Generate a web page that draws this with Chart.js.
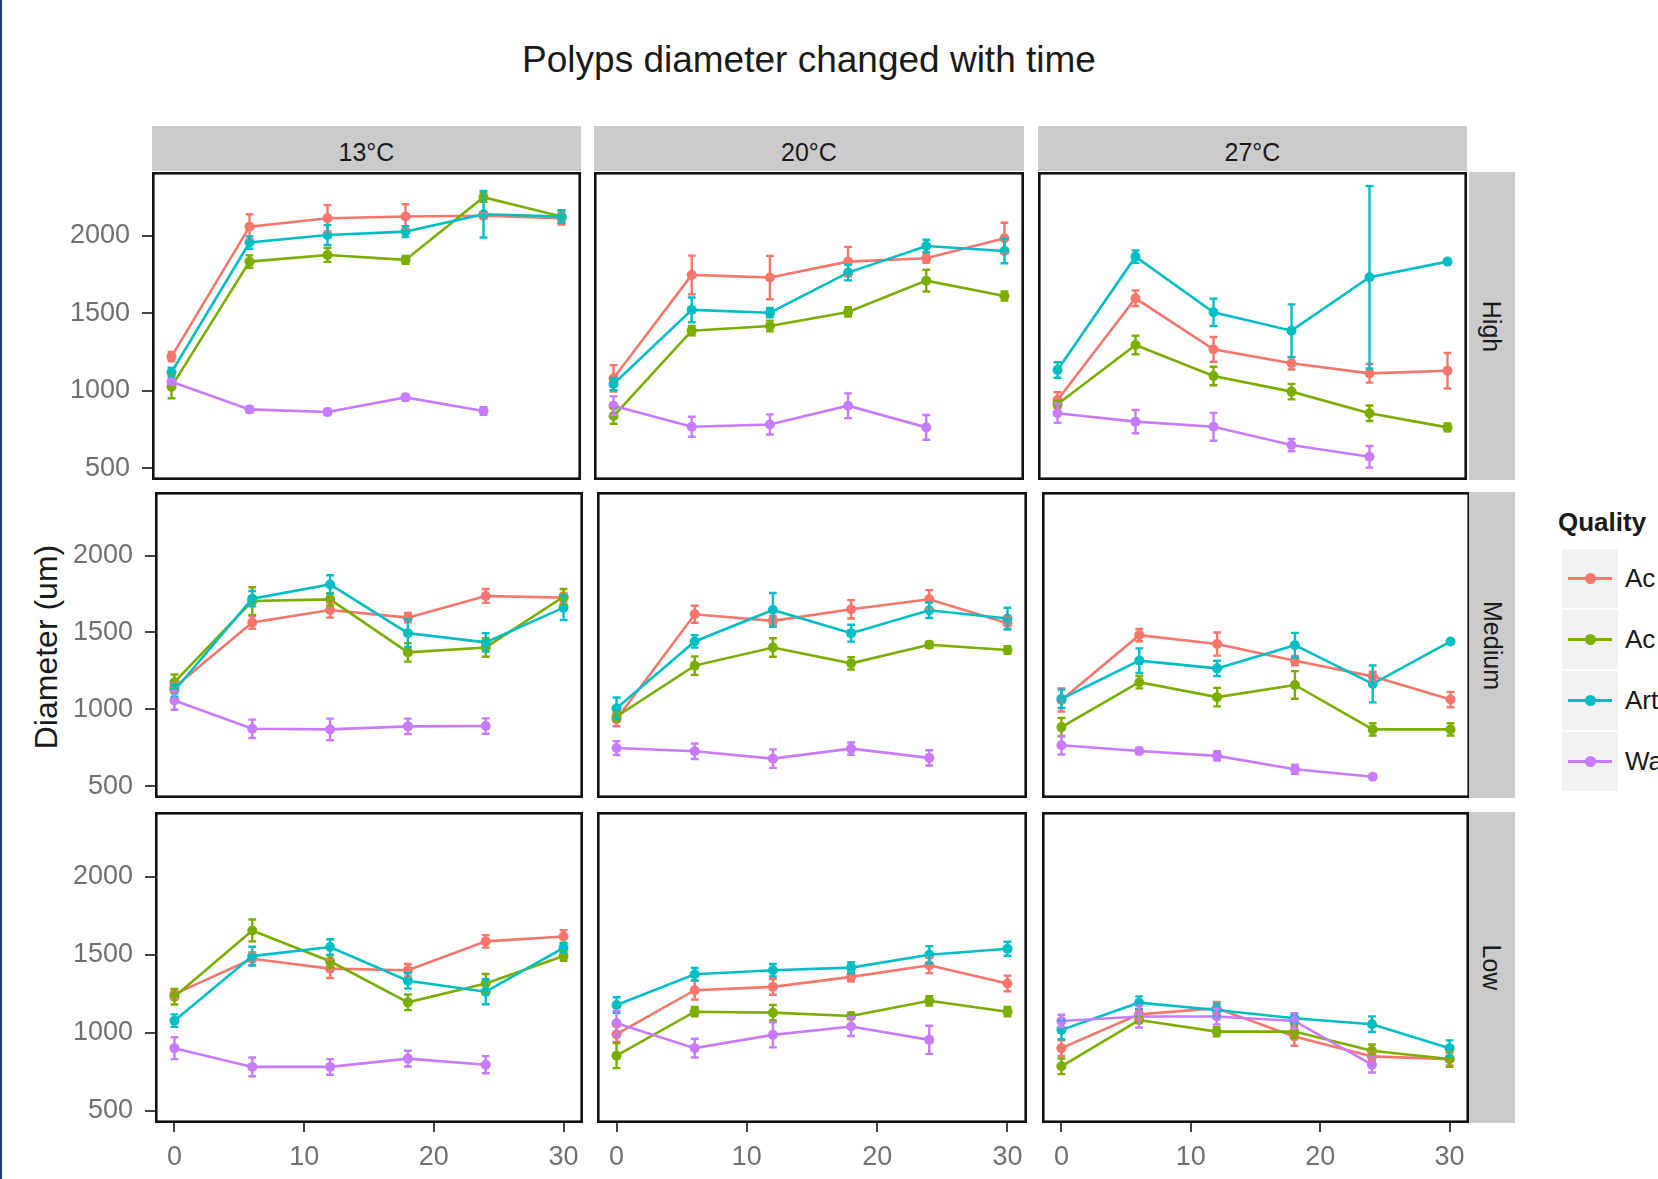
<!DOCTYPE html>
<html>
<head>
<meta charset="utf-8">
<script src="https://cdn.jsdelivr.net/npm/chart.js@4.4.0/dist/chart.umd.min.js"></script>
<style>
  html, body { margin: 0; padding: 0; background: #fff; overflow: hidden; }
  body { width: 1658px; height: 1179px; position: relative; font-family: "Liberation Sans", Arial, sans-serif; color: #1a1a1a; }
  canvas { position: absolute; }
  .strip { position: absolute; background: #cbcbcb; font-size: 25px; display: flex; align-items: center; justify-content: center; }
  .strip-x span { padding-top: 8px; }
  .strip-y span { transform: rotate(90deg); white-space: nowrap; }
  .key { position: absolute; left: 1562px; width: 56px; height: 59px; background: #f2f2f2; }
  .key .ln { position: absolute; left: 6px; right: 6px; top: 28px; height: 3px; }
  .key .dot { position: absolute; left: 23px; top: 24px; width: 11px; height: 11px; border-radius: 50%; }
  .klabel { position: absolute; left: 1625px; font-size: 26px; white-space: nowrap; }
</style>
</head>
<body>
<div style="position:absolute;left:0;top:0;width:2px;height:1179px;background:#1f3a6e;"></div>
<div id="title" style="position:absolute;left:0;width:1618px;top:40px;text-align:center;font-size:37px;line-height:40px;">Polyps diameter changed with time</div>
<div style="position:absolute;left:46px;top:647px;transform:translate(-50%,-50%) rotate(-90deg);font-size:32px;white-space:nowrap;">Diameter (um)</div>
<div id="root"></div>

<script>
const days = [0, 6, 12, 18, 24, 30];
const temps = ['13°C', '20°C', '27°C'];
const levels = ['High', 'Medium', 'Low'];
const qualities = ['Ac', 'Ac', 'Art', 'Wa'];
const qualityColors = ['#F8766D', '#7CAE00', '#00BFC4', '#C77CFF'];
const yTicks = [500, 1000, 1500, 2000];
const xTicks = [0, 10, 20, 30];

// panel order: 13°C High, 20°C High, 27°C High, 13°C Medium, ... 27°C Low
const ac1Mean = [
  [1220, 2060, 2114, 2125, 2130, 2114], [1080, 1748, 1731, 1834, 1856, 1985], [940, 1597, 1267, 1177, 1112, 1129],
  [1143, 1564, 1646, 1596, 1737, 1726], [935, 1618, 1575, 1650, 1715, 1560], [1061, 1482, 1424, 1316, 1214, 1063],
  [1248, 1474, 1411, 1400, 1585, 1616], [991, 1273, 1294, 1358, 1432, 1316], [902, 1118, 1157, 977, 849, 832]
];
const ac1Err = [
  [30, 80, 85, 80, 20, 40], [85, 125, 140, 95, 30, 100], [50, 50, 80, 40, 60, 115],
  [30, 40, 50, 30, 45, 30], [45, 55, 30, 60, 60, 40], [75, 40, 75, 30, 30, 50],
  [30, 40, 60, 40, 40, 40], [50, 60, 50, 30, 50, 50], [50, 30, 40, 60, 30, 40]
];
const ac2Mean = [
  [1026, 1834, 1877, 1845, 2250, 2125], [836, 1388, 1418, 1509, 1711, 1612], [912, 1295, 1095, 994, 854, 763],
  [1176, 1704, 1715, 1370, 1402, 1732], [953, 1284, 1402, 1299, 1420, 1385], [884, 1176, 1079, 1158, 869, 869],
  [1231, 1655, 1458, 1195, 1316, 1491], [854, 1135, 1129, 1108, 1205, 1135], [786, 1082, 1008, 1008, 885, 832]
];
const ac2Err = [
  [75, 40, 45, 25, 30, 40], [50, 30, 35, 30, 70, 30], [20, 60, 60, 50, 50, 25],
  [50, 90, 40, 60, 60, 50], [30, 60, 60, 40, 20, 25], [60, 40, 60, 90, 40, 40],
  [50, 70, 40, 50, 60, 30], [80, 30, 50, 20, 30, 30], [50, 20, 30, 40, 40, 50]
];
const artMean = [
  [1119, 1957, 2006, 2028, 2140, 2125], [1043, 1522, 1504, 1763, 1935, 1903], [1134, 1866, 1507, 1388, 1733, 1834],
  [1122, 1719, 1812, 1495, 1435, 1661], [1007, 1441, 1646, 1495, 1644, 1590], [1068, 1316, 1266, 1417, 1165, 1441],
  [1078, 1491, 1549, 1333, 1263, 1544], [1178, 1375, 1400, 1417, 1500, 1538], [1019, 1193, 1146, 1093, 1055, 902]
];
const artErr = [
  [30, 40, 65, 35, 150, 40], [40, 80, 30, 50, 40, 80], [50, 40, 88, 170, 590, 10],
  [40, 50, 60, 90, 60, 80], [70, 40, 110, 55, 50, 70], [60, 80, 50, 80, 120, 5],
  [40, 60, 50, 50, 80, 30], [50, 40, 40, 35, 55, 45], [60, 40, 40, 30, 50, 50]
];
const waMean = [
  [1058, 879, 862, 957, 869], [903, 767, 782, 903, 763], [854, 800, 767, 649, 573],
  [1057, 873, 869, 889, 891], [748, 727, 679, 744, 684], [766, 729, 697, 610, 561],
  [902, 782, 782, 835, 796], [1061, 902, 987, 1040, 955], [1076, 1104, 1104, 1076, 796]
];
const waErr = [
  [20, 20, 20, 20, 25], [60, 65, 65, 80, 80], [62, 75, 90, 40, 70],
  [60, 60, 70, 50, 50], [45, 50, 60, 40, 50], [60, 20, 30, 30, 10],
  [70, 60, 50, 50, 55], [80, 60, 80, 60, 90], [40, 70, 50, 50, 50]
];

const allMeans = [ac1Mean, ac2Mean, artMean, waMean];
const allErrs = [ac1Err, ac2Err, artErr, waErr];

// layout of the facet grid (pixels)
const rowTop = [172, 492, 812];
const rowBottom = [480, 798, 1123];
const colLeft = [[152, 594, 1038], [155, 597, 1042], [155, 597, 1042]];
const colRight = [[581, 1024, 1467], [583, 1027, 1470], [583, 1027, 1469]];

Chart.defaults.font.family = '"Liberation Sans", Arial, sans-serif';
Chart.defaults.animation = false;

const errorBars = {
  id: 'errorBars',
  afterDatasetsDraw(chart) {
    const { ctx, chartArea: a } = chart;
    const xs = chart.scales.x, ys = chart.scales.y;
    ctx.save();
    ctx.beginPath(); ctx.rect(a.left, a.top, a.right - a.left, a.bottom - a.top); ctx.clip();
    ctx.lineWidth = 2.4;
    chart.data.datasets.forEach(ds => {
      ctx.strokeStyle = ds.borderColor;
      ds.data.forEach((pt, j) => {
        const e = ds.errors[j];
        const px = xs.getPixelForValue(pt.x);
        const hw = xs.getPixelForValue(pt.x + 0.3) - px;
        const top = ys.getPixelForValue(pt.y + e), bot = ys.getPixelForValue(pt.y - e);
        ctx.beginPath();
        ctx.moveTo(px, top); ctx.lineTo(px, bot);
        ctx.moveTo(px - hw, top); ctx.lineTo(px + hw, top);
        ctx.moveTo(px - hw, bot); ctx.lineTo(px + hw, bot);
        ctx.stroke();
      });
    });
    ctx.restore();
  }
};

const panelBorder = {
  id: 'panelBorder',
  afterDraw(chart) {
    const { ctx, chartArea: a } = chart;
    const lw = 2.6;
    ctx.save();
    ctx.strokeStyle = '#111';
    ctx.lineWidth = lw;
    ctx.strokeRect(a.left + lw / 2, a.top + lw / 2, a.right - a.left - lw, a.bottom - a.top - lw);
    ctx.restore();
  }
};

const root = document.getElementById('root');

function drawPanel(r, c) {
  const p = r * 3 + c;
  const left = colLeft[r][c], right = colRight[r][c];
  const top = rowTop[r], bottom = rowBottom[r];
  const cLeft = c === 0 ? 0 : left;
  const cH = r === 2 ? 1179 - top : bottom - top;
  const cv = document.createElement('canvas');
  cv.width = right - cLeft; cv.height = cH;
  cv.style.left = cLeft + 'px'; cv.style.top = top + 'px';
  cv.style.width = cv.width + 'px'; cv.style.height = cH + 'px';
  root.appendChild(cv);

  const datasets = qualities.map((q, i) => {
    const m = allMeans[i][p];
    return {
      label: q,
      data: m.map((v, j) => ({ x: days[j], y: v })),
      errors: allErrs[i][p],
      borderColor: qualityColors[i],
      backgroundColor: qualityColors[i],
      borderWidth: 2.6,
      pointRadius: 5,
      pointBorderWidth: 0,
      showLine: true,
      order: 3 - i
    };
  });

  new Chart(cv, {
    type: 'scatter',
    data: { datasets },
    plugins: [errorBars, panelBorder],
    options: {
      responsive: false,
      devicePixelRatio: 1,
      layout: { padding: 0, autoPadding: false },
      plugins: { legend: { display: false }, tooltip: { enabled: false } },
      scales: {
        x: {
          type: 'linear', min: -1.5, max: 31.5,
          display: r === 2,
          afterBuildTicks: s => { s.ticks = xTicks.map(v => ({ value: v })); },
          afterFit: s => { s.height = cH - (bottom - top); s.paddingLeft = 0; s.paddingRight = 0; },
          grid: { drawOnChartArea: false, drawTicks: true, tickLength: 9, color: '#444', lineWidth: 2 },
          border: { display: false },
          ticks: { color: '#707070', font: { size: 27 }, padding: 9, maxRotation: 0, callback: v => String(v) }
        },
        y: {
          type: 'linear', min: 423, max: 2413,
          display: c === 0,
          afterBuildTicks: s => { s.ticks = yTicks.map(v => ({ value: v })); },
          afterFit: s => { s.width = left - cLeft; s.paddingTop = 0; s.paddingBottom = 0; },
          grid: { drawOnChartArea: false, drawTicks: true, tickLength: 10, color: '#444', lineWidth: 2 },
          border: { display: false },
          ticks: { color: '#707070', font: { size: 27 }, padding: 12, callback: v => String(v) }
        }
      }
    }
  });
}

for (let r = 0; r < 3; r++) for (let c = 0; c < 3; c++) drawPanel(r, c);

// column strips
temps.forEach((t, c) => {
  const d = document.createElement('div');
  d.className = 'strip strip-x';
  d.style.left = colLeft[0][c] + 'px';
  d.style.width = (colRight[0][c] - colLeft[0][c]) + 'px';
  d.style.top = '126px'; d.style.height = '45px';
  d.innerHTML = '<span>' + t + '</span>';
  root.appendChild(d);
});
// row strips
levels.forEach((l, r) => {
  const d = document.createElement('div');
  d.className = 'strip strip-y';
  d.style.left = '1469px'; d.style.width = '46px';
  d.style.top = rowTop[r] + 'px'; d.style.height = (rowBottom[r] - rowTop[r]) + 'px';
  d.innerHTML = '<span>' + l + '</span>';
  root.appendChild(d);
});

// legend
const lt = document.createElement('div');
lt.style.cssText = 'position:absolute;left:1558px;top:507px;font-size:26px;font-weight:bold;';
lt.textContent = 'Quality';
root.appendChild(lt);
qualities.forEach((q, i) => {
  const y = 549 + i * 61;
  const k = document.createElement('div');
  k.className = 'key';
  k.style.top = y + 'px';
  k.innerHTML = '<div class="ln" style="background:' + qualityColors[i] + '"></div><div class="dot" style="background:' + qualityColors[i] + '"></div>';
  root.appendChild(k);
  const lb = document.createElement('div');
  lb.className = 'klabel';
  lb.style.top = (y + 14) + 'px';
  lb.textContent = q;
  root.appendChild(lb);
});
</script>
</body>
</html>
